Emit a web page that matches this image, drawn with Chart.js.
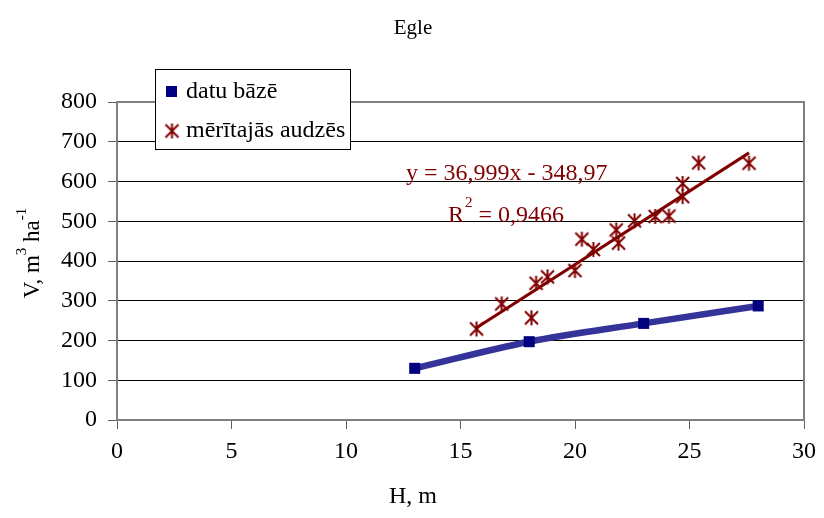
<!DOCTYPE html>
<html><head><meta charset="utf-8">
<script src="https://cdn.jsdelivr.net/npm/chart.js@4"></script>
<style>html,body{margin:0;padding:0;background:#fff}</style>
</head><body>
<canvas id="c" width="824" height="518"></canvas>
<script>
// ---- data ----
const chartTitle = 'Egle';
const xTitle = 'H, m';
const seriesNames = ['datu bāzē', 'mērītajās audzēs'];
const baseH = [13, 18, 23, 28];
const baseV = [130, 197, 243, 287];
const measH = [15.7, 16.8, 18.1, 18.3, 18.8, 20.0, 20.3, 20.8, 21.8, 21.9, 22.6, 23.5, 24.1, 24.7, 24.7, 25.4, 27.6];
const measV = [229, 292, 257, 344, 360, 376, 455, 429, 478, 445, 501, 512, 513, 595, 562, 647, 646];
const trendH = [15.7, 27.6];
const trendV = [232, 672];
const equationText = 'y = 36,999x - 348,97';
const r2Value = '0,9466';
const xTickValues = [0, 5, 10, 15, 20, 25, 30];
const yTickValues = [0, 100, 200, 300, 400, 500, 600, 700, 800];

const FONT = "'Liberation Serif', 'Times New Roman', serif";
const DARKRED = '#800000';
const NAVY = '#000080';

function makeStar() {
  const c = document.createElement('canvas');
  c.width = 17; c.height = 17;
  const g = c.getContext('2d');
  g.strokeStyle = DARKRED; g.lineWidth = 2;
  g.beginPath();
  g.moveTo(2, 2); g.lineTo(15, 15);
  g.moveTo(15, 2); g.lineTo(2, 15);
  g.moveTo(8.5, 1); g.lineTo(8.5, 16);
  g.stroke();
  return c;
}
const starImg = makeStar();

const zip = (xs, ys) => xs.map((x, i) => ({x: x, y: ys[i]}));

const overlay = {
  id: 'overlay',
  beforeDatasetsDraw(chart) {
    const {ctx, chartArea: a} = chart;
    ctx.save();
    ctx.strokeStyle = '#808080'; ctx.lineWidth = 2;
    ctx.beginPath();
    ctx.moveTo(a.left, a.top); ctx.lineTo(a.right, a.top); ctx.lineTo(a.right, a.bottom);
    ctx.stroke();
    ctx.restore();
  },
  afterDraw(chart) {
    const ctx = chart.ctx;
    ctx.save();
    // title
    ctx.fillStyle = '#000';
    ctx.font = '21px ' + FONT;
    ctx.textAlign = 'center'; ctx.textBaseline = 'middle';
    ctx.fillText(chartTitle, 413, 28);
    // x title
    ctx.font = '24px ' + FONT;
    ctx.fillText(xTitle, 413, 497);
    // y title with superscripts
    ctx.save();
    ctx.translate(39, 253);
    ctx.rotate(-Math.PI / 2);
    ctx.textAlign = 'left'; ctx.textBaseline = 'alphabetic';
    const segs = [['V, m', 23, 0], ['3', 15, -13], [' ha', 23, 0], ['-1', 15, -13]];
    let total = 0;
    segs.forEach(s => { ctx.font = s[1] + 'px ' + FONT; total += ctx.measureText(s[0]).width; });
    let px = -total / 2;
    segs.forEach(s => { ctx.font = s[1] + 'px ' + FONT; ctx.fillText(s[0], px, s[2]); px += ctx.measureText(s[0]).width; });
    ctx.restore();
    // equation
    ctx.fillStyle = DARKRED;
    ctx.font = '24px ' + FONT;
    ctx.textAlign = 'left'; ctx.textBaseline = 'alphabetic';
    ctx.fillText(equationText, 406, 180);
    ctx.fillText('R', 448, 222);
    let rx = 448 + ctx.measureText('R').width;
    ctx.font = '15px ' + FONT;
    ctx.fillText('2', rx + 1, 207);
    rx += ctx.measureText('2').width + 1;
    ctx.font = '24px ' + FONT;
    ctx.fillText(' = ' + r2Value, rx, 222);
    // legend
    ctx.fillStyle = '#fff';
    ctx.fillRect(155, 69, 195, 80);
    ctx.strokeStyle = '#000'; ctx.lineWidth = 1;
    ctx.strokeRect(155.5, 69.5, 195, 80);
    ctx.fillStyle = NAVY;
    ctx.fillRect(166, 86, 11, 11);
    ctx.drawImage(starImg, 172 - 8.5, 131 - 8.5);
    ctx.fillStyle = '#000';
    ctx.font = '24px ' + FONT;
    ctx.textBaseline = 'middle';
    ctx.fillText(seriesNames[0], 186, 92);
    ctx.fillText(seriesNames[1], 186, 131);
    ctx.restore();
  }
};

new Chart(document.getElementById('c'), {
  type: 'scatter',
  data: {
    datasets: [
      {
        label: seriesNames[0],
        data: zip(baseH, baseV),
        showLine: true,
        borderColor: '#333399',
        borderWidth: 6.5,
        cubicInterpolationMode: 'monotone',
        pointStyle: 'rect',
        pointRadius: 7.8,
        pointBackgroundColor: NAVY,
        pointBorderColor: NAVY,
        pointBorderWidth: 0,
        order: 3
      },
      {
        label: 'trend',
        data: zip(trendH, trendV),
        showLine: true,
        borderColor: DARKRED,
        borderWidth: 3,
        pointRadius: 0,
        order: 1
      },
      {
        label: seriesNames[1],
        data: zip(measH, measV),
        showLine: false,
        pointStyle: starImg,
        pointRadius: 8,
        order: 2
      }
    ]
  },
  options: {
    responsive: false,
    animation: false,
    devicePixelRatio: 1,
    layout: {padding: {left: 0, right: 16, top: 102, bottom: 0}},
    plugins: {legend: {display: false}, title: {display: false}, tooltip: {enabled: false}},
    scales: {
      x: {
        type: 'linear', min: 0, max: 30,
        afterBuildTicks: s => { s.ticks = xTickValues.map(v => ({value: v})); },
        ticks: {color: '#000', font: {family: FONT, size: 24}, padding: 8, maxRotation: 0},
        grid: {drawOnChartArea: false, tickLength: 9, tickColor: '#606060', tickWidth: 1},
        border: {color: '#808080', width: 2},
        afterFit: s => { s.height = 98; }
      },
      y: {
        type: 'linear', min: 0, max: 800,
        afterBuildTicks: s => { s.ticks = yTickValues.map(v => ({value: v})); },
        ticks: {color: '#000', font: {family: FONT, size: 24}, padding: 11},
        grid: {
          color: c => (c.tick && (c.tick.value === 0 || c.tick.value === 800)) ? 'rgba(0,0,0,0)' : '#000',
          lineWidth: 1, tickLength: 9, tickColor: '#606060', tickWidth: 1
        },
        border: {color: '#808080', width: 2},
        afterFit: s => { s.width = 117; }
      }
    }
  },
  plugins: [overlay]
});
</script>
</body></html>
